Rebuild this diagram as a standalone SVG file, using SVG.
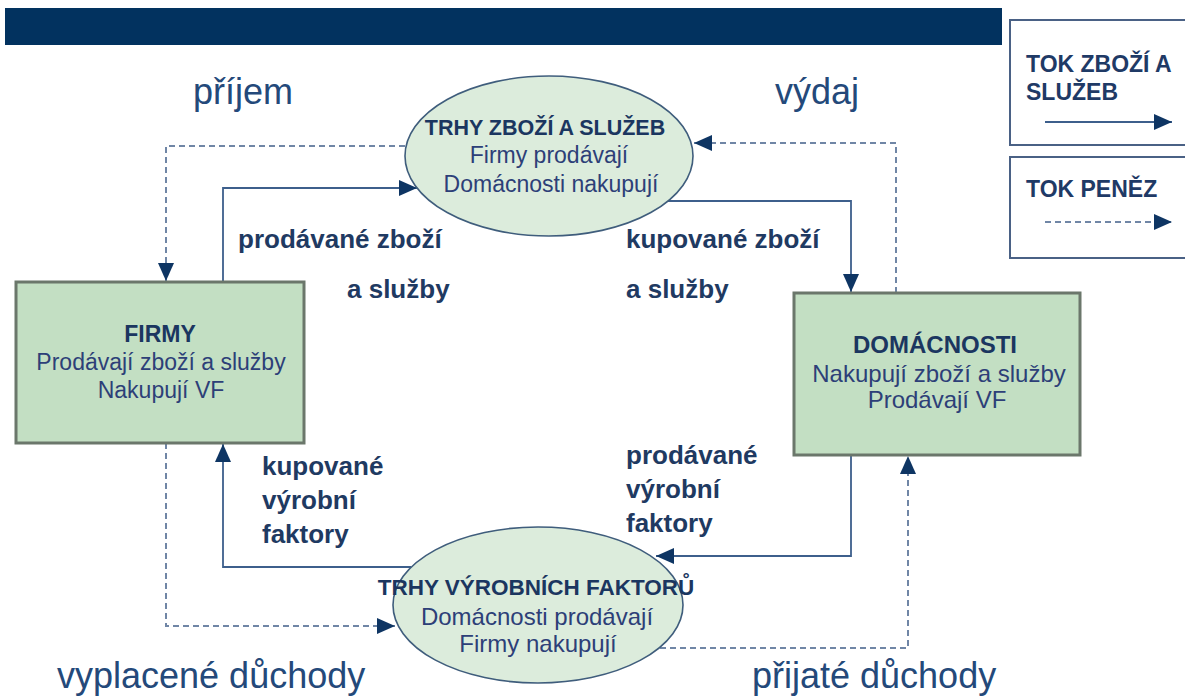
<svg xmlns="http://www.w3.org/2000/svg" width="1185" height="697" viewBox="0 0 1185 697">
<style>
  .t { font-family: "Liberation Sans", Arial, sans-serif; }
  .big { font-size: 36px; fill: #24497a; }
  .lbl { font-size: 26px; font-weight: bold; fill: #1f3a62; }
  .ttl { font-weight: bold; fill: #1b3660; }
  .sub { fill: #2d3f78; }
  .leg { font-size: 23px; font-weight: bold; fill: #1f3a66; }
  .solid { fill: none; stroke: #3d5f8c; stroke-width: 1.8; marker-end: url(#arr); }
  .dash { fill: none; stroke: #7086a6; stroke-width: 2; stroke-dasharray: 6 4; marker-end: url(#arr); }
  .box { fill: #c3dfc3; stroke: #6b776b; stroke-width: 3; }
  .ell { fill: #dcecdc; stroke: #3f5d7c; stroke-width: 1.6; }
  .legbox { fill: #ffffff; stroke: #4a6185; stroke-width: 2; }
</style>
<defs>
  <marker id="arr" markerUnits="userSpaceOnUse" markerWidth="20" markerHeight="18" refX="18" refY="8" orient="auto">
    <path d="M0,0 L18,8 L0,16 z" fill="#0e3563"/>
  </marker>
</defs>
<rect width="1185" height="697" fill="#ffffff"/>
<rect x="5" y="8" width="997" height="37" fill="#02325f"/>

<g id="connectors">
  <path class="solid" d="M223,282 V188 H417"/>
  <path class="dash" d="M405,146 H166 V281"/>
  <path class="solid" d="M668,201 H851 V292"/>
  <path class="dash" d="M896,293 V143 H694"/>
  <path class="solid" d="M851,455 V556 H656"/>
  <path class="dash" d="M660,648 H908 V456"/>
  <path class="solid" d="M411,567 H223 V444"/>
  <path class="dash" d="M166,443 V626 H395"/>
</g>

<g id="trhy-zbozi">
  <ellipse class="ell" cx="549" cy="156" rx="144" ry="80"/>
  <text class="t ttl" x="545" y="135" font-size="21.5" text-anchor="middle">TRHY ZBOŽÍ A SLUŽEB</text>
  <text class="t sub" x="549" y="163" font-size="23" text-anchor="middle">Firmy prodávají</text>
  <text class="t sub" x="551" y="192" font-size="23" text-anchor="middle">Domácnosti nakupují</text>
</g>

<g id="firmy">
  <rect class="box" x="16" y="282" width="288" height="161"/>
  <text class="t ttl" x="160" y="342" font-size="23" text-anchor="middle">FIRMY</text>
  <text class="t sub" x="161" y="370" font-size="23" text-anchor="middle">Prodávají zboží a služby</text>
  <text class="t sub" x="161" y="398" font-size="23" text-anchor="middle">Nakupují VF</text>
</g>

<g id="domacnosti">
  <rect class="box" x="794" y="293" width="286" height="162"/>
  <text class="t ttl" x="935" y="353" font-size="24" text-anchor="middle">DOMÁCNOSTI</text>
  <text class="t sub" x="939" y="382" font-size="24" text-anchor="middle">Nakupují zboží a služby</text>
  <text class="t sub" x="937" y="408" font-size="24" text-anchor="middle">Prodávají VF</text>
</g>

<g id="trhy-vf">
  <ellipse class="ell" cx="538" cy="605" rx="145" ry="78"/>
  <text class="t ttl" x="536" y="595" font-size="22.5" text-anchor="middle">TRHY VÝROBNÍCH FAKTORŮ</text>
  <text class="t sub" x="537" y="625" font-size="24" text-anchor="middle">Domácnosti prodávají</text>
  <text class="t sub" x="538" y="652" font-size="24" text-anchor="middle">Firmy nakupují</text>
</g>

<g id="labels">
  <text class="t big" x="193" y="104">příjem</text>
  <text class="t big" x="775" y="104">výdaj</text>
  <text class="t big" x="57" y="688">vyplacené důchody</text>
  <text class="t big" x="752" y="688">přijaté důchody</text>

  <text class="t lbl" x="238" y="248">prodávané zboží</text>
  <text class="t lbl" x="347" y="298">a služby</text>
  <text class="t lbl" x="626" y="248">kupované zboží</text>
  <text class="t lbl" x="626" y="298">a služby</text>

  <text class="t lbl" x="262" y="475">kupované</text>
  <text class="t lbl" x="262" y="509">výrobní</text>
  <text class="t lbl" x="262" y="543">faktory</text>

  <text class="t lbl" x="626" y="464">prodávané</text>
  <text class="t lbl" x="626" y="498">výrobní</text>
  <text class="t lbl" x="626" y="532">faktory</text>
</g>

<g id="legend-zbozi">
  <rect class="legbox" x="1010" y="20" width="190" height="125"/>
  <text class="t leg" x="1026" y="72">TOK ZBOŽÍ A</text>
  <text class="t leg" x="1026" y="100">SLUŽEB</text>
  <path class="solid" d="M1045,122 H1172"/>
</g>

<g id="legend-penez">
  <rect class="legbox" x="1010" y="157" width="190" height="101"/>
  <text class="t leg" x="1026" y="197">TOK PENĚZ</text>
  <path class="dash" d="M1045,222 H1172"/>
</g>
</svg>
